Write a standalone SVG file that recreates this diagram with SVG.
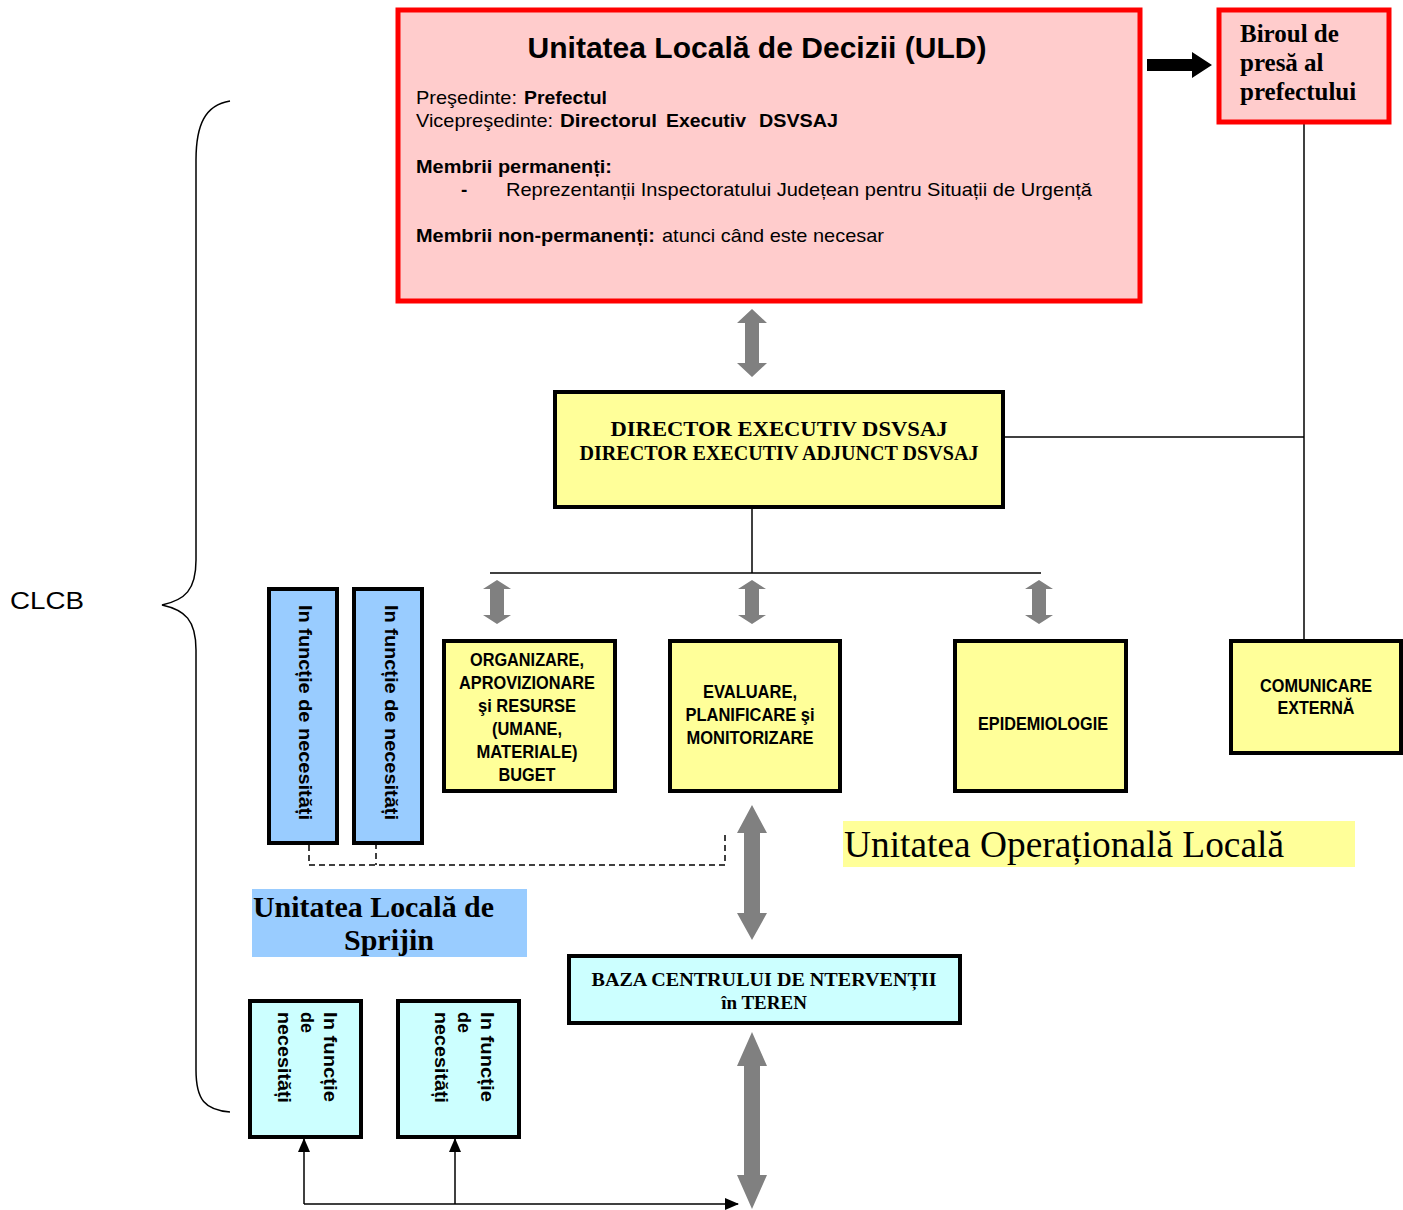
<svg xmlns="http://www.w3.org/2000/svg" width="1403" height="1210" viewBox="0 0 1403 1210">
<style>
.sans{font-family:"Liberation Sans",Arial,sans-serif;fill:#000}
.serif{font-family:"Liberation Serif","Times New Roman",serif;fill:#000}
.b{font-weight:bold}
.box{stroke:#000;stroke-width:4}
.yellow{fill:#FFFF99}
.blue{fill:#99CCFF}
.cyan{fill:#CCFFFF}
.red{fill:#FFCCCC;stroke:#FF0000;stroke-width:5}
.line{stroke:#000;stroke-width:1.5;fill:none}
.dash{stroke:#000;stroke-width:1.5;fill:none;stroke-dasharray:6 4}
.gray{fill:#808080}
.bx{font-size:18px;font-weight:bold;text-anchor:middle}
.t19{font-size:19px}
</style>
<defs>
<marker id="triL" markerWidth="14" markerHeight="12" refX="13" refY="6" orient="auto" markerUnits="userSpaceOnUse" viewBox="0 0 14 12">
<path d="M0,0 L14,6 L0,12 z" fill="#000"/>
</marker>
</defs>
<rect width="1403" height="1210" fill="#fff"/>

<g id="connectors">
<line class="line" x1="1304" y1="124" x2="1304" y2="640"/>
<line class="line" x1="1005" y1="437" x2="1304" y2="437"/>
<line class="line" x1="752" y1="509" x2="752" y2="573"/>
<line class="line" x1="490" y1="573" x2="1041" y2="573"/>
<path class="dash" d="M309,845 L309,865 L725,865 L725,835"/>
<path class="dash" d="M376,833 L376,865"/>
<line class="line" x1="304" y1="1204" x2="738" y2="1204" marker-end="url(#triL)"/>
<line class="line" x1="304" y1="1204" x2="304" y2="1139" marker-end="url(#triL)"/>
<line class="line" x1="455" y1="1204" x2="455" y2="1139" marker-end="url(#triL)"/>
<polygon fill="#000" points="1147,59 1192,59 1192,52 1212,65 1192,78 1192,71 1147,71"/>
<polygon class="gray" points="752,309 767,323 759,323 759,363 767,363 752,377 737,363 745,363 745,323 737,323"/>
<polygon class="gray" points="497,580 511,589 504,589 504,615 511,615 497,624 483,615 490,615 490,589 483,589"/>
<polygon class="gray" points="752,580 766,589 759,589 759,615 766,615 752,624 738,615 745,615 745,589 738,589"/>
<polygon class="gray" points="1039,580 1053,589 1046,589 1046,615 1053,615 1039,624 1025,615 1032,615 1032,589 1025,589"/>
<polygon class="gray" points="752,805 767,833 760,833 760,913 767,913 752,940 737,913 744,913 744,833 737,833"/>
<polygon class="gray" points="752,1032 767,1066 760,1066 760,1175 767,1175 752,1209 737,1175 744,1175 744,1066 737,1066"/>
<path class="line" d="M230,101 C205,105 196,125 196,160 L196,560 C196,590 185,600 162,605 C185,610 196,620 196,650 L196,1070 C196,1100 205,1110 230,1112"/>
</g>

<g id="uld">
<rect class="red" x="398" y="10" width="742" height="291"/>
<text class="sans b" x="757" y="58" font-size="30" text-anchor="middle" textLength="459" lengthAdjust="spacingAndGlyphs">Unitatea Locală de Decizii (ULD)</text>
<text class="sans t19" x="416" y="104" textLength="101" lengthAdjust="spacingAndGlyphs">Preşedinte:</text>
<text class="sans t19 b" x="524" y="104" textLength="83" lengthAdjust="spacingAndGlyphs">Prefectul</text>
<text class="sans t19" x="416" y="127" textLength="137" lengthAdjust="spacingAndGlyphs">Vicepreşedinte:</text>
<text class="sans t19 b" x="560" y="127" textLength="97" lengthAdjust="spacingAndGlyphs">Directorul</text>
<text class="sans t19 b" x="666" y="127" textLength="80" lengthAdjust="spacingAndGlyphs">Executiv</text>
<text class="sans t19 b" x="759" y="127" textLength="79" lengthAdjust="spacingAndGlyphs">DSVSAJ</text>
<text class="sans t19 b" x="416" y="173" textLength="196" lengthAdjust="spacingAndGlyphs">Membrii permanenți:</text>
<text class="sans t19 b" x="461" y="196">-</text>
<text class="sans t19" x="506" y="196" textLength="586" lengthAdjust="spacingAndGlyphs">Reprezentanții Inspectoratului Județean pentru Situații de Urgență</text>
<text class="sans t19 b" x="416" y="242" textLength="239" lengthAdjust="spacingAndGlyphs">Membrii non-permanenți:</text>
<text class="sans t19" x="662" y="242" textLength="222" lengthAdjust="spacingAndGlyphs">atunci când este necesar</text>
</g>

<g id="birou">
<rect class="red" x="1219" y="10" width="170" height="112"/>
<text class="serif b" x="1240" y="42" font-size="25">Biroul de</text>
<text class="serif b" x="1240" y="71" font-size="25">presă al</text>
<text class="serif b" x="1240" y="100" font-size="25">prefectului</text>
</g>

<g id="director">
<rect class="box yellow" x="555" y="392" width="448" height="115"/>
<text class="serif b" x="779" y="436" font-size="22" text-anchor="middle" textLength="337" lengthAdjust="spacingAndGlyphs">DIRECTOR EXECUTIV DSVSAJ</text>
<text class="serif b" x="779" y="460" font-size="20" text-anchor="middle" textLength="399" lengthAdjust="spacingAndGlyphs">DIRECTOR EXECUTIV ADJUNCT DSVSAJ</text>
</g>

<g id="organizare">
<rect class="box yellow" x="444" y="641" width="171" height="150"/>
<text class="sans bx" x="527" y="666" textLength="114" lengthAdjust="spacingAndGlyphs">ORGANIZARE,</text>
<text class="sans bx" x="527" y="689" textLength="136" lengthAdjust="spacingAndGlyphs">APROVIZIONARE</text>
<text class="sans bx" x="527" y="712" textLength="98" lengthAdjust="spacingAndGlyphs">şi RESURSE</text>
<text class="sans bx" x="527" y="735" textLength="70" lengthAdjust="spacingAndGlyphs">(UMANE,</text>
<text class="sans bx" x="527" y="758" textLength="101" lengthAdjust="spacingAndGlyphs">MATERIALE)</text>
<text class="sans bx" x="527" y="781" textLength="57" lengthAdjust="spacingAndGlyphs">BUGET</text>
</g>

<g id="evaluare">
<rect class="box yellow" x="670" y="641" width="170" height="150"/>
<text class="sans bx" x="750" y="698" textLength="94" lengthAdjust="spacingAndGlyphs">EVALUARE,</text>
<text class="sans bx" x="750" y="721" textLength="129" lengthAdjust="spacingAndGlyphs">PLANIFICARE şi</text>
<text class="sans bx" x="750" y="744" textLength="127" lengthAdjust="spacingAndGlyphs">MONITORIZARE</text>
</g>

<g id="epidemiologie">
<rect class="box yellow" x="955" y="641" width="171" height="150"/>
<text class="sans bx" x="1043" y="730" textLength="130" lengthAdjust="spacingAndGlyphs">EPIDEMIOLOGIE</text>
</g>

<g id="comunicare">
<rect class="box yellow" x="1231" y="641" width="170" height="112"/>
<text class="sans bx" x="1316" y="692" textLength="112" lengthAdjust="spacingAndGlyphs">COMUNICARE</text>
<text class="sans bx" x="1316" y="714" textLength="77" lengthAdjust="spacingAndGlyphs">EXTERNĂ</text>
</g>

<g id="necesitati1">
<rect class="box blue" x="269" y="589" width="68" height="254"/>
<text class="sans b" font-size="18" transform="translate(299,605) rotate(90)" textLength="215" lengthAdjust="spacingAndGlyphs">In funcție de necesități</text>
</g>

<g id="necesitati2">
<rect class="box blue" x="354" y="589" width="68" height="254"/>
<text class="sans b" font-size="18" transform="translate(385,605) rotate(90)" textLength="215" lengthAdjust="spacingAndGlyphs">In funcție de necesități</text>
</g>

<g id="label-uol">
<rect x="843" y="821" width="512" height="46" fill="#FFFF99"/>
<text class="serif" x="844" y="857" font-size="37" textLength="440" lengthAdjust="spacingAndGlyphs">Unitatea Operațională Locală</text>
</g>

<g id="label-uls">
<rect x="252" y="889" width="275" height="68" fill="#99CCFF"/>
<text class="serif b" x="253" y="917" font-size="30" textLength="241" lengthAdjust="spacingAndGlyphs">Unitatea Locală de</text>
<text class="serif b" x="389" y="950" font-size="30" text-anchor="middle">Sprijin</text>
</g>

<g id="baza">
<rect class="box cyan" x="569" y="956" width="391" height="67"/>
<text class="serif b" x="764" y="986" font-size="19" text-anchor="middle" textLength="345" lengthAdjust="spacingAndGlyphs">BAZA CENTRULUI DE NTERVENȚII</text>
<text class="serif b" x="764" y="1009" font-size="19" text-anchor="middle">în TEREN</text>
</g>

<g id="sprijin1">
<rect class="box cyan" x="250" y="1001" width="111" height="136"/>
<g class="sans b" font-size="18">
<text transform="translate(324,1012) rotate(90)" textLength="90" lengthAdjust="spacingAndGlyphs">In funcție</text>
<text transform="translate(301,1012) rotate(90)">de</text>
<text transform="translate(278,1012) rotate(90)" textLength="91" lengthAdjust="spacingAndGlyphs">necesități</text>
</g>
</g>

<g id="sprijin2">
<rect class="box cyan" x="398" y="1001" width="121" height="136"/>
<g class="sans b" font-size="18">
<text transform="translate(481,1012) rotate(90)" textLength="90" lengthAdjust="spacingAndGlyphs">In funcție</text>
<text transform="translate(458,1012) rotate(90)">de</text>
<text transform="translate(435,1012) rotate(90)" textLength="91" lengthAdjust="spacingAndGlyphs">necesități</text>
</g>
</g>

<g id="clcb">
<text class="sans" x="10" y="609" font-size="24" textLength="74" lengthAdjust="spacingAndGlyphs">CLCB</text>
</g>
</svg>
